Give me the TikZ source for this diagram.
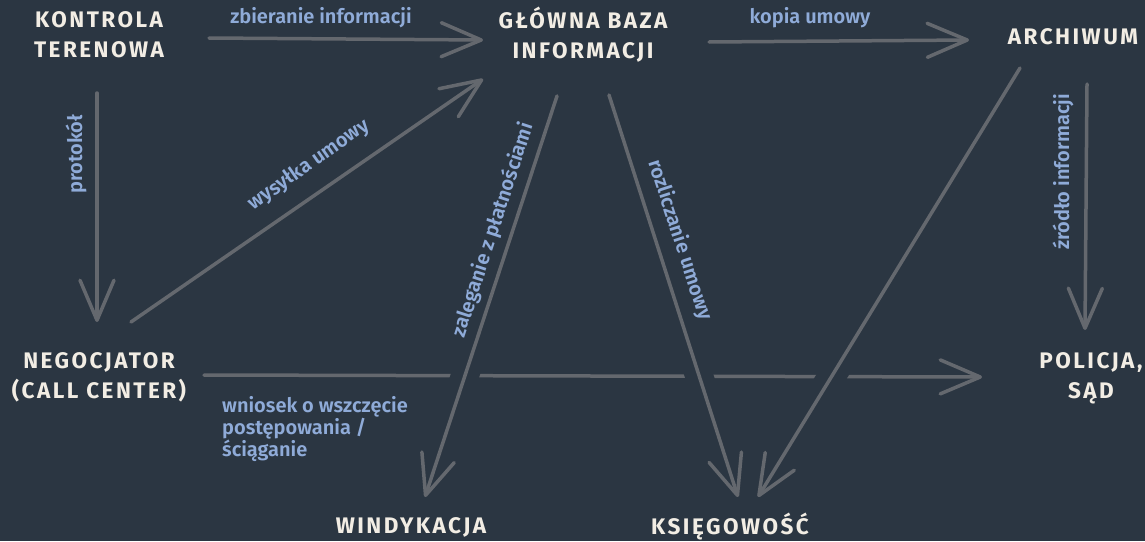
\documentclass[tikz,border=0pt]{standalone}
\usepackage{fontspec}
\setmainfont{Fira Sans}
\newfontfamily\titlefont[LetterSpace=11]{Fira Sans}
\newfontfamily\labelfont[BoldFont={Fira Sans SemiBold}]{Fira Sans}
\usetikzlibrary{arrows.meta,calc}

\definecolor{bgcol}{HTML}{2B3642}
\definecolor{titlecol}{HTML}{F2EDE4}
\definecolor{labelcol}{HTML}{8FABD8}
\definecolor{linecol}{HTML}{64686E}

\tikzset{
  place/.style={font=\titlefont\bfseries\fontsize{22.5}{30}\selectfont, text=titlecol, align=center, inner sep=0pt},
  flow/.style={draw=linecol, line width=3.5pt, line cap=round, -{Straight Barb[length=40pt,width=34pt,round]}},
  gap/.style={draw=bgcol, line width=28pt},
  lbl/.style={font=\labelfont\bfseries\fontsize{20}{20}\selectfont, text=labelcol, inner sep=0pt}
}

\begin{document}
\begin{tikzpicture}[x=1pt, y=-1pt]
    \fill[bgcol] (0,0) rectangle (1145,541);
    \useasboundingbox (0,0) rectangle (1145,541);

    % places
    \node[place] (kontrola) at (99,35) {KONTROLA\\TERENOWA};
    \node[place] (glowna) at (583,35) {GŁÓWNA BAZA\\INFORMACJI};
    \node[place] (archiwum) at (1073,37) {ARCHIWUM};
    \node[place] (negocjator) at (99,377) {NEGOCJATOR\\(CALL CENTER)};
    \node[place] (policja) at (1091,378) {POLICJA,\\SĄD};
    \node[place] (windykacja) at (411,527) {WINDYKACJA};
    \node[place] (ksiegowosc) at (730,527) {KSIĘGOWOŚĆ};

    % long line to the police, broken where others cross it
    \draw[flow] ($(negocjator)+(105,-2)$) -- ($(policja)+(-109,-1)$);
    \begin{scope}
        \clip (0,362) rectangle (1145,392);
        \draw[gap] ($(archiwum)+(-53,31)$) -- ($(ksiegowosc)+(28,-30)$);
        \draw[gap] ($(glowna)+(26,60)$) -- ($(ksiegowosc)+(8,-30)$);
        \draw[gap] ($(glowna)+(-26,61)$) -- ($(windykacja)+(14,-30)$);
    \end{scope}

    % flows
    \draw[flow] ($(kontrola)+(110,3)$) -- ($(glowna)+(-100,5)$);
    \draw[flow] ($(glowna)+(126,7)$) -- ($(archiwum)+(-104,3)$);
    \draw[flow] ($(kontrola)+(-2,58)$) -- ($(negocjator)+(-2,-55)$);
    \draw[flow] ($(negocjator)+(32,-55)$) -- ($(glowna)+(-100,44)$);
    \draw[flow] ($(archiwum)+(-53,31)$) -- ($(ksiegowosc)+(28,-30)$);
    \draw[flow] ($(glowna)+(26,60)$) -- ($(ksiegowosc)+(8,-30)$);
    \draw[flow] ($(glowna)+(-26,61)$) -- ($(windykacja)+(14,-30)$);
    \draw[flow] ($(archiwum)+(14,47)$) -- ($(policja)+(-6,-48)$);

    % labels
    \node[lbl] (zbieranie) at (321,18) {zbieranie informacji};
    \node[lbl] (kopia) at (810,18) {kopia umowy};
    \node[lbl, rotate=90] (protokol) at (76,154) {protokół};
    \node[lbl, rotate=35] (wysylka) at (309,165) {wysyłka umowy};
    \node[lbl, rotate=72] (zaleganie) at (493,230) {zaleganie z płatnościami};
    \node[lbl, rotate=-72] (rozliczanie) at (680,240) {rozliczanie umowy};
    \node[lbl, rotate=90] (zrodlo) at (1063,172) {źródło informacji};
    \node[lbl, anchor=north west, align=left] (wniosek) at (222,396) {wniosek o wszczęcie\\postępowania /\\ściąganie};
\end{tikzpicture}
\end{document}
